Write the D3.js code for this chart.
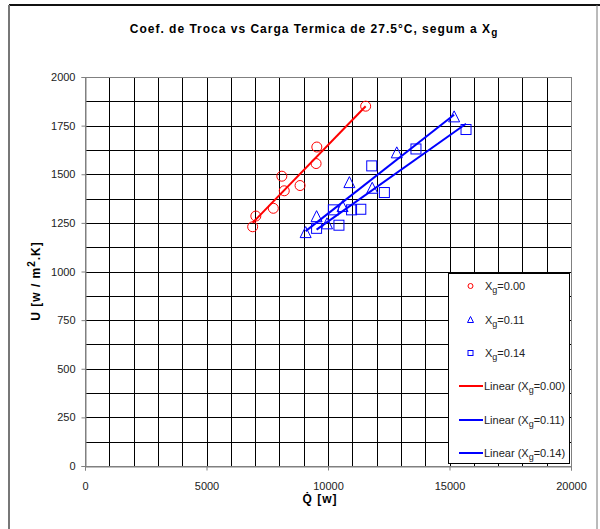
<!DOCTYPE html>
<html>
<head>
<meta charset="utf-8">
<script src="https://cdn.jsdelivr.net/npm/d3@7"></script>
<style>
  html, body { margin: 0; padding: 0; background: #fff; }
  svg { display: block; font-family: Arial, "Liberation Sans", sans-serif; }
</style>
</head>
<body>
<svg id="chart" width="600" height="529"></svg>
<script>
// Heat load Q [W] vs exchange coefficient U [W/m2.K], by gas fraction Xg
const seriesNames = ["0.00", "0.11", "0.14"];

const qXg000 = [11550, 9540, 9510, 8100, 8850, 8200, 7750, 7030, 6900];
const uXg000 = [1850, 1640, 1555, 1490, 1442, 1415, 1325, 1285, 1230];

const qXg011 = [15190, 12830, 10880, 11820, 10600, 9530, 9960, 9080];
const uXg011 = [1795, 1610, 1457, 1428, 1334, 1282, 1245, 1200];

const qXg014 = [15680, 13620, 11800, 12320, 10220, 10970, 11350, 10450, 9530];
const uXg014 = [1730, 1630, 1543, 1406, 1317, 1317, 1320, 1238, 1222];

const xTicks = [0, 5000, 10000, 15000, 20000];
const yTicks = [0, 250, 500, 750, 1000, 1250, 1500, 1750, 2000];

const colors = ["#ff0000", "#0000ff", "#0000ff"];
const shapes = ["circle", "triangle", "square"];

const series = [
  { name: seriesNames[0], q: qXg000, u: uXg000 },
  { name: seriesNames[1], q: qXg011, u: uXg011 },
  { name: seriesNames[2], q: qXg014, u: uXg014 }
];

const svg = d3.select("#chart");

// outer chart frame
svg.append("line").attr("x1", 9).attr("y1", 5).attr("x2", 600).attr("y2", 5)
  .attr("stroke", "#111").attr("stroke-width", 2);
svg.append("line").attr("x1", 9).attr("y1", 5).attr("x2", 9).attr("y2", 529)
  .attr("stroke", "#777").attr("stroke-width", 2);
svg.append("line").attr("x1", 597).attr("y1", 5).attr("x2", 597).attr("y2", 529)
  .attr("stroke", "#777").attr("stroke-width", 1);

const plot = { left: 85, right: 571, top: 77, bottom: 466 };

const x = d3.scaleLinear().domain([0, 20000]).range([plot.left, plot.right]);
const y = d3.scaleLinear().domain([0, 2000]).range([plot.bottom, plot.top]);

// grid
const grid = svg.append("g");
grid.selectAll(".vg").data(d3.range(1000, 20000, 1000)).join("line")
  .attr("x1", d => Math.round(x(d)) + 0.5).attr("x2", d => Math.round(x(d)) + 0.5)
  .attr("y1", plot.top).attr("y2", plot.bottom)
  .attr("stroke", "#000").attr("stroke-width", 1);
grid.selectAll(".hg").data(d3.range(125, 2000, 125)).join("line")
  .attr("y1", d => Math.round(y(d)) + 0.5).attr("y2", d => Math.round(y(d)) + 0.5)
  .attr("x1", plot.left).attr("x2", plot.right)
  .attr("stroke", "#000").attr("stroke-width", 1);

// plot border
svg.append("rect")
  .attr("x", plot.left + 0.5).attr("y", plot.top + 0.5)
  .attr("width", plot.right - plot.left).attr("height", plot.bottom - plot.top)
  .attr("fill", "none").attr("stroke", "#808080").attr("stroke-width", 1);

// axes
const xAxis = svg.append("g").attr("transform", `translate(0,${plot.bottom + 0.5})`)
  .call(d3.axisBottom(x).tickValues(xTicks).tickSize(4).tickPadding(12).tickFormat(d3.format("d")));
const yAxis = svg.append("g").attr("transform", `translate(${plot.left + 0.5},0)`)
  .call(d3.axisLeft(y).tickValues(yTicks).tickSize(4).tickPadding(6).tickFormat(d3.format("d")));
[xAxis, yAxis].forEach(a => {
  a.select(".domain").attr("stroke", "#808080");
  a.selectAll(".tick line").attr("stroke", "#808080");
  a.selectAll(".tick text").attr("font-size", 11).attr("fill", "#222")
    .attr("font-family", "Arial, 'Liberation Sans', sans-serif");
});

// trendlines (least squares over each series' Q range)
function fit(q, u) {
  const mx = d3.mean(q), my = d3.mean(u);
  let sxy = 0, sxx = 0;
  q.forEach((v, i) => { sxy += (v - mx) * (u[i] - my); sxx += (v - mx) * (v - mx); });
  const b = sxy / sxx;
  return { b, a: my - b * mx };
}
series.forEach((s, i) => {
  const f = fit(s.q, s.u);
  const [q0, q1] = d3.extent(s.q);
  svg.append("line")
    .attr("x1", x(q0)).attr("y1", y(f.a + f.b * q0))
    .attr("x2", x(q1)).attr("y2", y(f.a + f.b * q1))
    .attr("stroke", colors[i]).attr("stroke-width", 2);
});

// markers
function drawMarker(g, shape, cx, cy, color, r) {
  if (shape === "circle") {
    g.append("circle").attr("cx", cx).attr("cy", cy).attr("r", r)
      .attr("fill", "none").attr("stroke", color).attr("stroke-width", 1);
  } else if (shape === "square") {
    g.append("rect").attr("x", cx - r).attr("y", cy - r).attr("width", 2 * r).attr("height", 2 * r)
      .attr("fill", "none").attr("stroke", color).attr("stroke-width", 1);
  } else {
    g.append("path")
      .attr("d", `M${cx},${cy - r - 1}L${cx + r + 0.5},${cy + r}L${cx - r - 0.5},${cy + r}Z`)
      .attr("fill", "none").attr("stroke", color).attr("stroke-width", 1);
  }
}
const marks = svg.append("g");
series.forEach((s, i) => {
  s.q.forEach((q, j) => drawMarker(marks, shapes[i], x(q), y(s.u[j]), colors[i], 5));
});

// legend
const lg = svg.append("g");
lg.append("rect").attr("x", 448.5).attr("y", 273.5).attr("width", 121).attr("height", 190)
  .attr("fill", "#fff").attr("stroke", "#000").attr("stroke-width", 1);
const rowY = [286, 320, 353, 386, 420, 453];
function xgLabel(t, prefix, value, suffix) {
  t.append("tspan").text(prefix + "X");
  t.append("tspan").attr("dy", 3).attr("font-size", 9).text("g");
  t.append("tspan").attr("dy", -3).text("=" + value + suffix);
}
series.forEach((s, i) => {
  drawMarker(lg, shapes[i], 470.5, rowY[i], colors[i], 2.5);
  const t = lg.append("text").attr("x", 485).attr("y", rowY[i] + 4)
    .attr("font-size", 11).attr("fill", "#222");
  xgLabel(t, "", s.name, "");
});
series.forEach((s, i) => {
  const yy = rowY[i + 3];
  lg.append("line").attr("x1", 459).attr("x2", 483).attr("y1", yy).attr("y2", yy)
    .attr("stroke", colors[i]).attr("stroke-width", 2);
  const t = lg.append("text").attr("x", 484).attr("y", yy + 4)
    .attr("font-size", 11).attr("fill", "#222");
  xgLabel(t, "Linear (", s.name, ")");
});

// title
const title = svg.append("text").attr("x", 314).attr("y", 33)
  .attr("text-anchor", "middle").attr("font-size", 12).attr("font-weight", "bold")
  .attr("letter-spacing", 1);
title.append("tspan").text("Coef. de Troca vs Carga Termica de 27.5°C, segum a X");
title.append("tspan").attr("dy", 3).attr("font-size", 10).text("g");

// axis titles
const yl = svg.append("text").attr("transform", "translate(40,281) rotate(-90)")
  .attr("text-anchor", "middle").attr("font-size", 12).attr("font-weight", "bold")
  .attr("letter-spacing", 1);
yl.append("tspan").text("U [w / m");
yl.append("tspan").attr("dy", -5).attr("font-size", 10).text("2");
yl.append("tspan").attr("dy", 5).text(".K]");

svg.append("text").attr("x", 320).attr("y", 503)
  .attr("text-anchor", "middle").attr("font-size", 12).attr("font-weight", "bold")
  .attr("letter-spacing", 1)
  .text("Q\u0307 [w]");
</script>
</body>
</html>
